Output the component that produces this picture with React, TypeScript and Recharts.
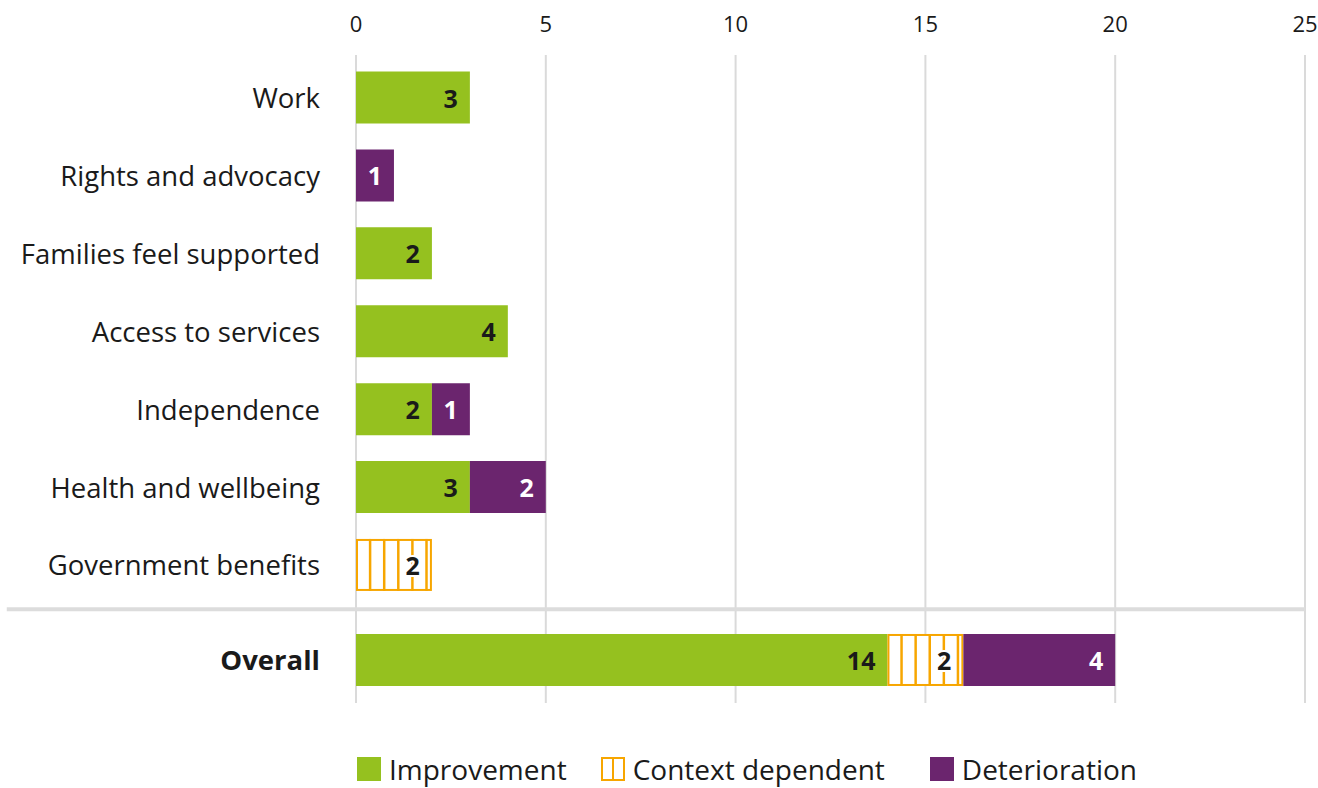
import React from 'react';
import { BarChart, Bar, XAxis, YAxis, CartesianGrid, ReferenceLine, LabelList, Legend } from 'recharts';

const categories = [
  'Work',
  'Rights and advocacy',
  'Families feel supported',
  'Access to services',
  'Independence',
  'Health and wellbeing',
  'Government benefits',
  'Overall',
];
const improvement = [3, 0, 2, 4, 2, 3, 0, 14];
const contextDependent = [0, 0, 0, 0, 0, 0, 2, 2];
const deterioration = [0, 1, 0, 0, 1, 2, 0, 4];
const xTicks = [0, 5, 10, 15, 20, 25];

const GREEN = '#95c11f';
const ORANGE = '#f7a600';
const PURPLE = '#6b256e';
const TEXT = '#1a1a1a';
const FONT = '"Open Sans", Lato, sans-serif';

// the "Overall" row sits a little further down, below the separator
const OVERALL_POS = 7.22;
const SEPARATOR_POS = 6.57;

const rowPos = (i: number) => (i === categories.length - 1 ? OVERALL_POS : i);

const data = categories.map((name, i) => ({
  name,
  pos: rowPos(i),
  improvement: improvement[i] || null,
  context: contextDependent[i] || null,
  deterioration: deterioration[i] || null,
}));

const STRIPE_GAP = 14.1;

const ContextShape = (props: any) => {
  const { x, y, width, height } = props;
  if (!width || width <= 0) return null;
  const stripes = [];
  for (let sx = x + STRIPE_GAP; sx < x + width - 1.5; sx += STRIPE_GAP) {
    stripes.push(<line key={sx} x1={sx} x2={sx} y1={y} y2={y + height} stroke={ORANGE} strokeWidth={2.5} />);
  }
  return (
    <g>
      <rect x={x + 1} y={y + 1} width={width - 2} height={height - 2} fill="#fff" stroke={ORANGE} strokeWidth={2} />
      {stripes}
    </g>
  );
};

const valueLabel = (color: string, halo = false) => (props: any) => {
  const { x, y, width, height, value } = props;
  if (!value) return null;
  return (
    <text
      x={x + width - 12}
      y={y + height / 2}
      textAnchor="end"
      dominantBaseline="central"
      fill={color}
      fontFamily={FONT}
      fontWeight={700}
      fontSize={25}
      stroke={halo ? '#fff' : undefined}
      strokeWidth={halo ? 4 : undefined}
      paintOrder="stroke"
    >
      {value}
    </text>
  );
};

const CategoryTick = (props: any) => {
  const { y, payload } = props;
  const idx = data.findIndex((d) => d.pos === payload.value);
  const label = idx >= 0 ? categories[idx] : '';
  return (
    <text
      x={320}
      y={y}
      textAnchor="end"
      dominantBaseline="central"
      fill={TEXT}
      fontFamily={FONT}
      fontSize={27.5}
      fontWeight={idx === categories.length - 1 ? 700 : 400}
    >
      {label}
    </text>
  );
};

const ValueTick = (props: any) => {
  const { x, payload } = props;
  return (
    <text x={x} y={32} textAnchor="middle" fill={TEXT} fontFamily={FONT} fontSize={22}>
      {payload.value}
    </text>
  );
};

const Swatch = ({ kind }: { kind: string }) => {
  if (kind === 'context') {
    return (
      <svg width={24} height={24} style={{ display: 'block' }}>
        <rect x={1} y={1} width={22} height={22} fill="#fff" stroke={ORANGE} strokeWidth={2} />
        <line x1={12} x2={12} y1={0} y2={24} stroke={ORANGE} strokeWidth={2} />
      </svg>
    );
  }
  return <div style={{ width: 24, height: 24, background: kind === 'improvement' ? GREEN : PURPLE }} />;
};

const legendItems = [
  { key: 'improvement', label: 'Improvement' },
  { key: 'context', label: 'Context dependent' },
  { key: 'deterioration', label: 'Deterioration' },
];

const ChartLegend = () => (
  <div style={{ display: 'flex', alignItems: 'center', height: 30, fontFamily: FONT, fontSize: 28, color: TEXT }}>
    {legendItems.map((item, i) => (
      <div key={item.key} style={{ display: 'flex', alignItems: 'center', marginRight: i === 0 ? 34 : 45 }}>
        <Swatch kind={item.key} />
        <span style={{ marginLeft: 8, whiteSpace: 'nowrap' }}>{item.label}</span>
      </div>
    ))}
  </div>
);

export default function App() {
  return (
    <>
      <style>{'body { margin: 0; }'}</style>
      <BarChart
        width={1318}
        height={788}
        data={data}
        layout="vertical"
        margin={{ top: 0, right: 13, left: 0, bottom: 55 }}
      >
        <CartesianGrid horizontal={false} stroke="#dadada" strokeWidth={2} />
        <XAxis
          type="number"
          orientation="top"
          domain={[0, 25]}
          ticks={xTicks}
          interval={0}
          axisLine={false}
          tickLine={false}
          height={55}
          tick={<ValueTick />}
        />
        <YAxis
          type="number"
          dataKey="pos"
          domain={[-0.546, 7.773]}
          allowDataOverflow
          ticks={data.map((d) => d.pos)}
          interval={0}
          width={356}
          axisLine={false}
          tickLine={false}
          tick={<CategoryTick />}
        />
        <ReferenceLine
          segment={[
            { x: -9.2, y: SEPARATOR_POS },
            { x: 25, y: SEPARATOR_POS },
          ]}
          ifOverflow="visible"
          stroke="#dcdcdc"
          strokeWidth={4}
        />
        <Bar dataKey="improvement" stackId="a" fill={GREEN} barSize={52} isAnimationActive={false}>
          <LabelList dataKey="improvement" content={valueLabel(TEXT)} />
        </Bar>
        <Bar dataKey="context" stackId="a" fill={ORANGE} barSize={52} shape={<ContextShape />} isAnimationActive={false}>
          <LabelList dataKey="context" content={valueLabel(TEXT, true)} />
        </Bar>
        <Bar dataKey="deterioration" stackId="a" fill={PURPLE} barSize={52} isAnimationActive={false}>
          <LabelList dataKey="deterioration" content={valueLabel('#fff')} />
        </Bar>
        <Legend
          content={<ChartLegend />}
          wrapperStyle={{ left: 357, top: 754, bottom: 'auto', width: 'auto' }}
        />
      </BarChart>
    </>
  );
}
